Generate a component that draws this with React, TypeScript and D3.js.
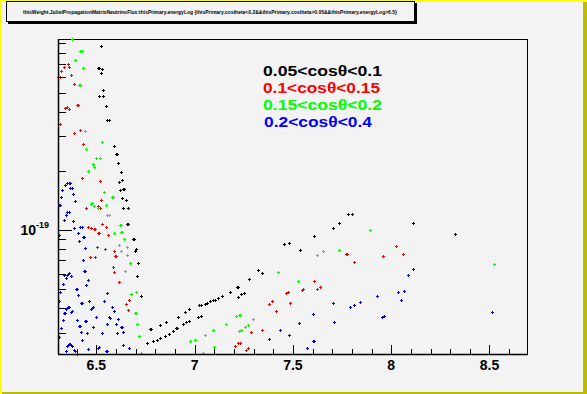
import React from "react";
import * as d3 from "d3";

const W = 587;
const H = 394;

const titleText =
  "thisWeight.JulietPropagationMatrixNeutrinoFlux:thisPrimary.energyLog {thisPrimary.costheta<0.2&&thisPrimary.costheta>0.05&&thisPrimary.energyLog>6.5}";

const legendLabels = ["0.05<cosθ<0.1", "0.1<cosθ<0.15", "0.15<cosθ<0.2", "0.2<cosθ<0.4"];
const seriesColors = ["#000000", "#ff0000", "#00ff00", "#0000ff"];

const xMajorTicks = [6.5, 7, 7.5, 8, 8.5];
const xTickLabels = ["6.5", "7", "7.5", "8", "8.5"];
const xMinorTicks = [6.4, 6.6, 6.7, 6.8, 6.9, 7.1, 7.2, 7.3, 7.4, 7.6, 7.7, 7.8, 7.9, 8.1, 8.2, 8.3, 8.4, 8.6];
const yMajorTicks = [1e-19];
const yMinorTicks = [3e-20, 4e-20, 5e-20, 6e-20, 7e-20, 8e-20, 9e-20, 2e-19, 3e-19, 4e-19, 5e-19, 6e-19, 7e-19, 8e-19, 9e-19];

// cos theta 0.05-0.1
const black: [number, number][] = [
  [6.524, 8.61e-19], [6.511, 6.65e-19], [6.516, 6.65e-19], [6.529, 6.57e-19], [6.524, 6.27e-19],
  [6.534, 5.14e-19], [6.514, 4.79e-19], [6.534, 4.79e-19], [6.549, 4.26e-19], [6.554, 3.62e-19],
  [6.565, 3.62e-19], [6.590, 2.67e-19], [6.600, 2.43e-19], [6.605, 2.43e-19], [6.610, 2.19e-19],
  [6.626, 1.97e-19], [6.616, 1.75e-19], [6.631, 1.79e-19], [6.621, 1.59e-19], [6.636, 1.61e-19],
  [6.641, 1.61e-19], [6.631, 1.45e-19], [6.651, 1.43e-19], [6.636, 1.30e-19], [6.661, 1.29e-19],
  [6.656, 1.07e-19], [6.661, 1.07e-19], [6.689, 8.97e-20], [6.694, 8.97e-20], [6.702, 7.98e-20],
  [6.697, 7.79e-20], [6.712, 6.77e-20], [6.707, 5.81e-20], [6.728, 4.60e-20], [6.758, 2.67e-20],
  [6.789, 2.73e-20], [6.809, 2.76e-20], [6.824, 2.83e-20], [6.850, 2.90e-20], [6.870, 2.97e-20],
  [6.891, 3.07e-20], [6.906, 3.18e-20], [6.911, 3.18e-20], [6.941, 3.34e-20], [6.957, 3.41e-20],
  [6.972, 3.45e-20], [7.018, 3.62e-20], [7.033, 3.66e-20], [7.053, 4.19e-20], [7.064, 4.24e-20],
  [7.079, 4.34e-20], [7.094, 4.39e-20], [7.104, 4.39e-20], [7.120, 4.49e-20], [7.140, 4.60e-20],
  [7.023, 4.14e-20], [7.033, 4.14e-20], [6.916, 3.62e-20], [6.952, 3.81e-20], [6.972, 3.95e-20],
  [6.824, 3.27e-20], [6.855, 3.39e-20], [6.773, 3.12e-20], [6.779, 3.12e-20], [7.181, 4.82e-20],
  [7.216, 5.11e-20], [7.222, 5.11e-20], [7.222, 4.54e-20], [7.237, 4.71e-20], [7.252, 4.76e-20],
  [7.277, 5.61e-20], [7.323, 6.24e-20], [7.344, 6.02e-20], [7.456, 8.46e-20], [7.481, 8.56e-20],
  [7.537, 7.88e-20], [7.608, 9.29e-20], [7.705, 1.02e-19], [7.736, 1.08e-19], [7.782, 1.20e-19],
  [7.802, 1.20e-19], [8.113, 1.09e-19], [8.326, 9.51e-20],
];

// cos theta 0.1-0.15
const red: [number, number][] = [
  [6.356, 6.97e-19], [6.336, 6.78e-19], [6.361, 6.73e-19], [6.320, 6.42e-19], [6.305, 5.99e-19],
  [6.315, 5.99e-19], [6.371, 6.13e-19], [6.386, 5.51e-19], [6.402, 4.31e-19], [6.407, 4.31e-19],
  [6.341, 4.16e-19], [6.351, 4.21e-19], [6.361, 4.11e-19], [6.315, 3.45e-19], [6.417, 3.22e-19],
  [6.386, 3.10e-19], [6.432, 2.73e-19], [6.427, 1.85e-19], [6.519, 1.77e-19], [6.524, 1.43e-19],
  [6.448, 1.30e-19], [6.509, 1.32e-19], [6.519, 1.29e-19], [6.458, 1.04e-19], [6.473, 1.02e-19],
  [6.488, 1.01e-19], [6.493, 1.01e-19], [6.509, 9.62e-20], [6.514, 9.62e-20], [6.529, 1.07e-19],
  [6.549, 1.04e-19], [6.560, 9.40e-20], [6.504, 8.16e-20], [6.544, 7.98e-20], [6.590, 7.79e-20],
  [6.597, 7.35e-20], [6.602, 7.35e-20], [6.468, 7.26e-20], [6.493, 7.26e-20], [6.585, 6.46e-20],
  [6.590, 6.09e-20], [6.616, 5.42e-20], [6.667, 4.39e-20], [6.651, 4.19e-20], [6.661, 3.90e-20],
  [7.206, 2.58e-20], [7.222, 2.65e-20], [7.232, 2.67e-20], [7.262, 2.44e-20], [7.273, 2.50e-20],
  [7.288, 3.02e-20], [7.344, 3.09e-20], [7.379, 4.19e-20], [7.395, 4.34e-20], [7.415, 3.86e-20],
  [7.466, 4.76e-20], [7.476, 4.82e-20], [7.486, 4.24e-20], [7.547, 4.93e-20], [7.552, 4.99e-20],
  [7.608, 5.48e-20], [7.624, 4.99e-20], [7.639, 5.11e-20], [7.768, 7.52e-20], [7.773, 7.52e-20],
  [7.812, 6.85e-20], [7.960, 7.35e-20], [8.026, 8.26e-20], [8.062, 7.52e-20],
];

// cos theta 0.15-0.2
const green: [number, number][] = [
  [6.376, 9.34e-19], [6.417, 8.12e-19], [6.427, 8.12e-19], [6.394, 7.31e-19], [6.434, 6.65e-19],
  [6.412, 5.45e-19], [6.417, 5.45e-19], [6.442, 3.18e-19], [6.531, 2.80e-19], [6.448, 2.57e-19],
  [6.498, 2.32e-19], [6.519, 2.32e-19], [6.483, 2.16e-19], [6.488, 2.09e-19], [6.458, 1.99e-19],
  [6.539, 1.56e-19], [6.580, 1.47e-19], [6.585, 1.47e-19], [6.478, 1.37e-19], [6.473, 1.35e-19],
  [6.488, 1.32e-19], [6.509, 1.30e-19], [6.549, 1.34e-19], [6.554, 1.19e-19], [6.565, 1.19e-19],
  [6.590, 9.62e-20], [6.621, 1.06e-19], [6.626, 1.06e-19], [6.626, 9.73e-20], [6.631, 9.73e-20],
  [6.641, 8.97e-20], [6.616, 8.36e-20], [6.656, 8.16e-20], [6.626, 7.79e-20], [6.656, 7.43e-20],
  [6.672, 6.77e-20], [6.646, 6.16e-20], [6.677, 4.71e-20], [6.702, 4.82e-20], [6.697, 3.77e-20],
  [6.702, 3.77e-20], [6.707, 3.31e-20], [6.717, 2.88e-20], [6.728, 2.36e-20], [6.977, 2.71e-20],
  [7.003, 2.76e-20], [7.053, 2.91e-20], [7.094, 3.09e-20], [7.043, 2.38e-20], [7.099, 2.53e-20],
  [7.160, 3.31e-20], [7.211, 3.64e-20], [7.227, 3.68e-20], [7.232, 3.68e-20], [7.227, 3.05e-20],
  [7.237, 3.09e-20], [7.257, 3.20e-20], [7.273, 3.27e-20], [7.298, 3.51e-20], [7.425, 6.09e-20],
  [7.527, 5.48e-20], [7.624, 7.43e-20], [7.655, 7.79e-20], [7.736, 7.88e-20], [7.894, 9.97e-20],
  [8.525, 6.69e-20],
];

// cos theta 0.2-0.4
const blue: [number, number][] = [
  [6.341, 1.69e-19], [6.351, 1.73e-19], [6.361, 1.73e-19], [6.366, 1.73e-19], [6.366, 1.63e-19],
  [6.376, 1.63e-19], [6.325, 1.59e-19], [6.381, 1.52e-19], [6.320, 1.48e-19], [6.392, 1.40e-19],
  [6.310, 1.34e-19], [6.315, 1.34e-19], [6.351, 1.24e-19], [6.361, 1.24e-19], [6.346, 1.19e-19],
  [6.336, 1.13e-19], [6.381, 1.11e-19], [6.386, 1.03e-19], [6.417, 1.04e-19], [6.427, 1.04e-19],
  [6.310, 9.40e-20], [6.407, 9.62e-20], [6.437, 9.18e-20], [6.432, 9.18e-20], [6.412, 8.76e-20],
  [6.442, 8.07e-20], [6.432, 7.01e-20], [6.361, 6.02e-20], [6.356, 5.95e-20], [6.351, 5.88e-20],
  [6.336, 5.88e-20], [6.346, 5.68e-20], [6.371, 5.81e-20], [6.437, 6.16e-20], [6.442, 6.16e-20],
  [6.458, 5.55e-20], [6.330, 5.29e-20], [6.448, 5.23e-20], [6.397, 4.99e-20], [6.402, 4.99e-20],
  [6.315, 4.82e-20], [6.554, 4.76e-20], [6.407, 4.65e-20], [6.310, 4.34e-20], [6.463, 4.34e-20],
  [6.539, 4.34e-20], [6.422, 4.24e-20], [6.427, 4.24e-20], [6.356, 4.04e-20], [6.351, 4.00e-20],
  [6.361, 4.04e-20], [6.346, 3.95e-20], [6.483, 4.04e-20], [6.478, 4.00e-20], [6.473, 3.95e-20],
  [6.580, 4.04e-20], [6.590, 3.86e-20], [6.336, 3.77e-20], [6.341, 3.77e-20], [6.371, 3.81e-20],
  [6.376, 3.86e-20], [6.498, 3.59e-20], [6.565, 3.59e-20], [6.570, 3.55e-20], [6.610, 3.51e-20],
  [6.402, 3.47e-20], [6.442, 3.43e-20], [6.448, 3.43e-20], [6.330, 3.47e-20], [6.412, 3.24e-20],
  [6.417, 3.24e-20], [6.483, 3.20e-20], [6.554, 3.31e-20], [6.600, 3.31e-20], [6.626, 3.20e-20],
  [6.631, 3.20e-20], [6.320, 3.16e-20], [6.422, 3.02e-20], [6.453, 2.98e-20], [6.529, 2.98e-20],
  [6.605, 2.98e-20], [6.636, 3.02e-20], [6.310, 2.84e-20], [6.427, 2.75e-20], [6.361, 2.62e-20],
  [6.366, 2.62e-20], [6.356, 2.59e-20], [6.371, 2.59e-20], [6.376, 2.56e-20], [6.351, 2.56e-20],
  [6.636, 2.59e-20], [6.667, 2.50e-20], [6.458, 2.47e-20], [6.509, 2.50e-20], [6.514, 2.53e-20],
  [6.346, 2.41e-20], [6.386, 2.44e-20], [6.392, 2.41e-20], [6.549, 2.41e-20], [6.554, 2.41e-20],
  [6.402, 2.35e-20], [7.379, 2.78e-20], [7.435, 3.09e-20], [7.481, 2.94e-20], [7.532, 3.35e-20],
  [7.603, 3.72e-20], [7.603, 2.71e-20], [7.608, 2.71e-20], [7.573, 2.50e-20], [8.113, 6.31e-20],
  [8.087, 5.88e-20], [8.037, 4.82e-20], [8.067, 4.88e-20], [8.051, 4.39e-20], [7.929, 4.60e-20],
  [7.843, 4.29e-20], [7.812, 4.14e-20], [7.792, 4.04e-20], [7.705, 4.24e-20], [7.710, 3.39e-20],
  [7.955, 3.59e-20], [7.965, 3.64e-20], [8.515, 3.81e-20],
];

const allSeries = [black, red, green, blue];

export default function App() {
  const left = 58, right = 528, top = 39, bottom = 354;
  const x = d3.scaleLinear().domain([6.305, 8.696]).range([left, right]);
  const y = d3.scaleLog().domain([2.34e-20, 9.38e-19]).range([bottom, top]);
  const font = "'Liberation Sans', Arial, sans-serif";
  const bg = "#f3f3f3";

  return (
    <svg width={W} height={H} style={{ position: "absolute", left: 0, top: 0, display: "block" }}>
      <rect x={0} y={0} width={W} height={H} fill={bg} />
      {/* canvas border */}
      <rect x={0} y={0} width={W} height={2} fill="#ffff00" />
      <rect x={0} y={0} width={2} height={H} fill="#ffff00" />
      <rect x={583} y={2} width={4} height={H - 2} fill="#bcbc00" />
      <rect x={2} y={392} width={W - 2} height={2} fill="#bcbc00" />

      {/* title box */}
      <rect x={8} y={3} width={409} height={21} fill="#000" />
      <rect x={6.5} y={1.5} width={408} height={20} fill={bg} stroke="#000" strokeWidth={1} />
      <text x={210} y={14} fontFamily={font} fontSize={5.5} fontWeight="bold" textAnchor="middle"
        textLength={374} lengthAdjust="spacingAndGlyphs" fill="#000">{titleText}</text>

      {/* frame */}
      <rect x={left + 0.5} y={top + 0.5} width={right - left - 1} height={bottom - top} fill={bg} stroke="#000" strokeWidth={1} />

      {/* markers */}
      <g>
        {allSeries.map((s, si) => (
          <g key={si} fill={seriesColors[si]}>
            {s.map(([ev, wv], i) => {
              const px = Math.round(x(ev));
              const py = Math.round(y(wv));
              if (py > bottom || py < top) return null;
              return (
                <g key={i}>
                  <rect x={px - 1} y={py} width={3} height={1} />
                  <rect x={px} y={py - 1} width={1} height={3} />
                </g>
              );
            })}
          </g>
        ))}
      </g>

      {/* x axis */}
      <line x1={left} x2={right} y1={bottom + 0.5} y2={bottom + 0.5} stroke="#000" strokeWidth={1.5} />
      {xMajorTicks.map((t, i) => (
        <g key={"xm" + i}>
          <line x1={Math.round(x(t)) + 0.5} x2={Math.round(x(t)) + 0.5} y1={bottom} y2={bottom - 9} stroke="#000" strokeWidth={1} />
          <text x={x(t)} y={369.5} fontFamily={font} fontSize={14} fontWeight="bold" textAnchor="middle" fill="#000">{xTickLabels[i]}</text>
        </g>
      ))}
      {xMinorTicks.map((t, i) => (
        <line key={"xn" + i} x1={Math.round(x(t)) + 0.5} x2={Math.round(x(t)) + 0.5} y1={bottom} y2={bottom - 5} stroke="#000" strokeWidth={1} />
      ))}

      {/* y axis */}
      <line x1={left + 0.5} x2={left + 0.5} y1={top} y2={bottom} stroke="#000" strokeWidth={1.5} />
      {yMajorTicks.map((t, i) => (
        <g key={"ym" + i}>
          <line x1={left} x2={left + 14} y1={Math.round(y(t)) + 0.5} y2={Math.round(y(t)) + 0.5} stroke="#000" strokeWidth={1} />
          <text x={36} y={y(t) + 5} fontFamily={font} fontSize={14} fontWeight="bold" textAnchor="end" fill="#000">10</text>
          <text x={36} y={y(t) - 2} fontFamily={font} fontSize={9} fontWeight="bold" textAnchor="start" fill="#000">-19</text>
        </g>
      ))}
      {yMinorTicks.map((t, i) => (
        <line key={"yn" + i} x1={left} x2={left + 8} y1={Math.round(y(t)) + 0.5} y2={Math.round(y(t)) + 0.5} stroke="#000" strokeWidth={1} />
      ))}

      {/* legend */}
      {legendLabels.map((lab, i) => (
        <text key={"lg" + i} x={i === 3 ? 264 : 263} y={75.5 + i * 17.2} fontFamily={font} fontSize={15.5} fontWeight="bold"
          fill={seriesColors[i]} textLength={[119, 117, 119, 108][i]} lengthAdjust="spacingAndGlyphs">{lab}</text>
      ))}
    </svg>
  );
}
